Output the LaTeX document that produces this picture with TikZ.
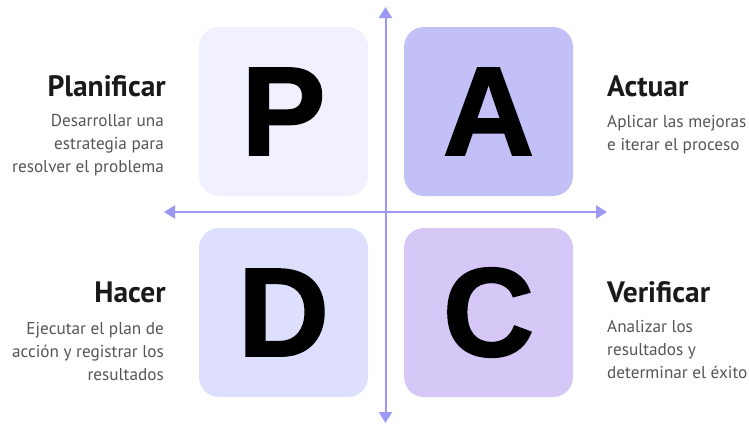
\documentclass[tikz,border=0pt]{standalone}
\usepackage{fontspec}
\setmainfont{PT Sans}
\newfontfamily\letterfont[FakeBold=1.6]{Liberation Sans Bold}
\usetikzlibrary{arrows.meta}
\definecolor{axiscol}{RGB}{157,152,245}
\definecolor{pcol}{RGB}{240,240,254}
\definecolor{acol}{RGB}{195,192,247}
\definecolor{dcol}{RGB}{222,223,253}
\definecolor{ccol}{RGB}{213,200,247}
\definecolor{titlecol}{RGB}{26,26,26}
\definecolor{bodycol}{RGB}{85,85,85}
\tikzset{
  quad/.style={rounded corners=20pt, minimum width=169pt, minimum height=169pt, inner sep=0pt,
    font=\letterfont\fontsize{126}{126}\selectfont, text=black},
  ttl/.style={font=\fontsize{29.5}{32}\selectfont\bfseries, text=titlecol, inner sep=0pt},
  bodytxt/.style={font=\fontsize{17.2}{22.7}\selectfont, text=bodycol, inner sep=0pt},
  axis/.style={draw=axiscol, line width=2pt, {Triangle[width=13pt,length=11pt]}-{Triangle[width=13pt,length=11pt]}}
}
\begin{document}
\begin{tikzpicture}[x=1pt,y=-1pt]
\useasboundingbox (0,0) rectangle (749,424);
\node[quad, fill=pcol] (P) at (283.5,111.5) {P};
\node[quad, fill=acol] (A) at (488.5,111.5) {A};
\node[quad, fill=dcol] (D) at (283.5,312.5) {D};
\node[quad, fill=ccol] (C) at (488.5,312.5) {C};
\coordinate (top) at (385.5,7);
\coordinate (bottom) at (385.5,423);
\coordinate (left) at (164,212);
\coordinate (right) at (607,212);
\draw[axis] (left) -- (right);
\draw[axis] (bottom) -- (top);
\node[ttl, anchor=base east] (plt) at (166,96) {Planificar};
\node[bodytxt, anchor=base east, align=right] (plb) at (164,172) {Desarrollar una\\estrategia para\\resolver el problema};
\node[ttl, anchor=base west] (act) at (607,96) {Actuar};
\node[bodytxt, anchor=base west, align=left] (acb) at (607,150) {Aplicar las mejoras\\e iterar el proceso};
\node[ttl, anchor=base east] (hat) at (166,302) {Hacer};
\node[bodytxt, anchor=base east, align=right] (hab) at (164,380) {Ejecutar el plan de\\acción y registrar los\\resultados};
\node[ttl, anchor=base west] (vet) at (607,302) {Verificar};
\node[bodytxt, anchor=base west, align=left] (veb) at (607,378) {Analizar los\\resultados y\\determinar el éxito};
\end{tikzpicture}
\end{document}
